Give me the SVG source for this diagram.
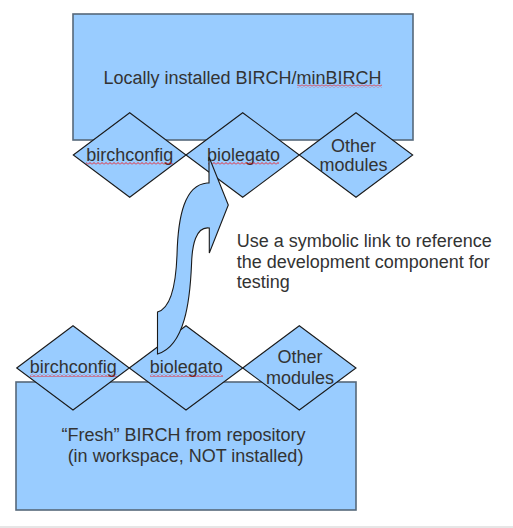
<svg xmlns="http://www.w3.org/2000/svg" width="513" height="528" viewBox="0 0 513 528">
<defs>
<style>
.box{fill:#99ccff;stroke:#56687a;stroke-width:1.6}
.dia{fill:#99ccff;stroke:#1a1a1a;stroke-width:1.1}
.arrow{fill:#99ccff;stroke:#1a1a1a;stroke-width:1.1;stroke-linejoin:miter}
.t{font-family:"Liberation Sans",Arial,sans-serif;font-size:18px;fill:#333333}
.m{text-anchor:middle}
.wv{fill:url(#wave)}
</style>
<pattern id="wave" patternUnits="userSpaceOnUse" width="4" height="3">
<polyline points="0,2.5 2,0.5 4,2.5" fill="none" stroke="#ff0000" stroke-width="0.8"/>
</pattern>
</defs>
<rect x="0" y="0" width="513" height="528" fill="#ffffff"/>
<rect x="0" y="526" width="513" height="2" fill="#e6e6e6"/>

<g id="installed">
<rect class="box" x="73" y="14" width="340" height="126"/>
<text class="t m" x="242.5" y="84">Locally installed BIRCH/minBIRCH</text>
<rect class="wv" x="297" y="84.5" width="85" height="3"/>
</g>

<g id="top-birchconfig">
<polygon class="dia" points="73.3,155 129.7,112.7 186,155 129.7,197.3"/>
<text class="t m" x="129.7" y="161">birchconfig</text>
<rect class="wv" x="86" y="162" width="87" height="3"/>
</g>
<g id="top-biolegato">
<polygon class="dia" points="186,155 242.7,112.7 299.3,155 242.7,197.3"/>
<text class="t m" x="243.5" y="161">biolegato</text>
<rect class="wv" x="208" y="162" width="71" height="3"/>
</g>
<g id="top-other">
<polygon class="dia" points="299.3,155 356,112.7 412.7,155 356,197.3"/>
<text class="t m" x="353.5" y="151.5">Other</text>
<text class="t m" x="353.5" y="171">modules</text>
</g>

<g id="fresh">
<rect class="box" x="16" y="382" width="340" height="128"/>
<text class="t m" x="183.5" y="440.7">“Fresh” BIRCH from repository</text>
<text class="t m" x="185.5" y="461.7">(in workspace, NOT installed)</text>
</g>

<g id="bottom-birchconfig">
<polygon class="dia" points="16.7,368 73,325.7 129.3,368 73,410"/>
<text class="t m" x="73.3" y="373">birchconfig</text>
<rect class="wv" x="30" y="374" width="87" height="3"/>
</g>
<g id="bottom-biolegato">
<polygon class="dia" points="129.3,368 186,325.7 242.7,368 186,410"/>
<text class="t m" x="186.3" y="373">biolegato</text>
<rect class="wv" x="150" y="374" width="73" height="3"/>
</g>
<g id="bottom-other">
<polygon class="dia" points="242.7,368 299.3,325.7 356,368 299.3,410"/>
<text class="t m" x="300" y="363.3">Other</text>
<text class="t m" x="300" y="384">modules</text>
</g>

<g id="connectors">
<path class="arrow" d="M209,157 L228.3,205 L209.3,253 L209.3,228 C196,226 192,245 191.5,265 C190,300 185,346 157.5,354 L157.5,312 C172,308 176,282 177,255 C178,215 185,185 207,183 L209,183 Z"/>
</g>

<g id="note">
<text class="t" x="236.7" y="246.7">Use a symbolic link to reference</text>
<text class="t" x="236.7" y="267.7">the development component for</text>
<text class="t" x="236.7" y="288.3">testing</text>
</g>
</svg>
